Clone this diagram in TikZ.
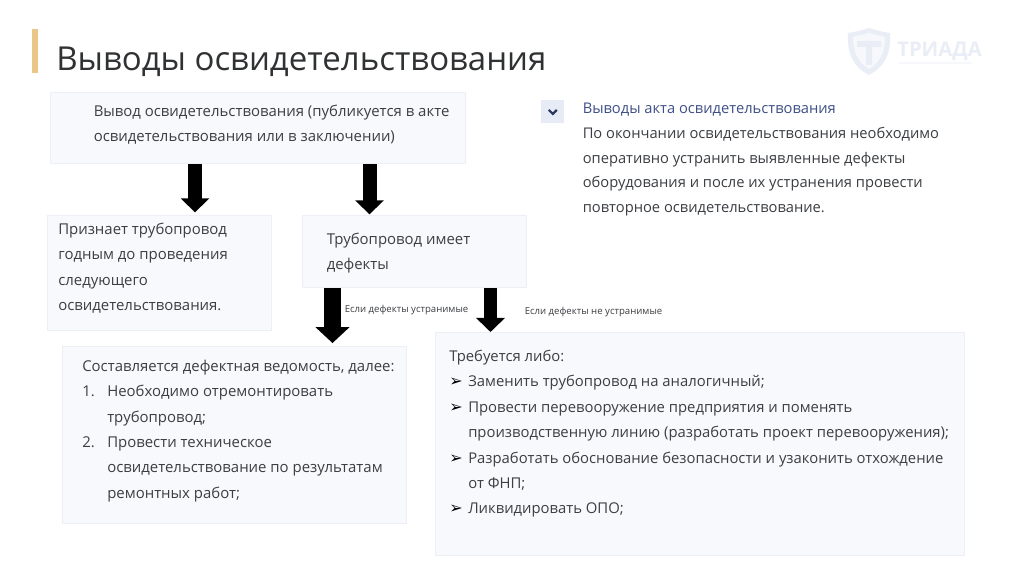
\documentclass[tikz,border=0pt]{standalone}
\usepackage{fontspec}
\setmainfont{Open Sans}
\newfontfamily\arrowfont{DejaVu Sans}
\usetikzlibrary{arrows.meta}
\definecolor{boxfill}{HTML}{F8F9FD}
\definecolor{boxline}{HTML}{EDEFF6}
\definecolor{ink}{HTML}{3B3E42}
\definecolor{headblue}{HTML}{3F5087}
\definecolor{logoc}{HTML}{E9EDF6}
\definecolor{accent}{RGB}{236,198,136}
\definecolor{titleink}{RGB}{47,49,51}
\definecolor{iconfill}{RGB}{231,235,246}
\newcommand{\mk}{\makebox[14.25pt][l]{\arrowfont\fontsize{12}{19}\selectfont\color{black}➢}}
\newcommand{\nm}[1]{\makebox[18.75pt][l]{#1}}
\tikzset{
  box/.style={draw=boxline,fill=boxfill,line width=1pt,anchor=north west,inner sep=0pt},
  txt/.style={anchor=north west,inner sep=0pt,align=left,text=ink,font=\fontsize{11.2}{19.1}\selectfont},
  txtw/.style={txt,font=\fontsize{11.13}{19.1}\selectfont},
  txtr/.style={txt,font=\fontsize{11.03}{18.5}\selectfont},
  small/.style={anchor=west,inner sep=0pt,text=ink,font=\fontsize{7.2}{9}\selectfont},
  bigarrow/.style={line width=#1,-{Triangle[length=10.5pt,width=21pt]},black},
}
\begin{document}
\begin{tikzpicture}[x=0.75pt,y=-0.75pt]
\useasboundingbox (0,0) rectangle (1024,573);
\fill[white] (0,0) rectangle (1024,573);
% accent bar and title
\fill[accent] (32,29) rectangle (38,73);
\node[anchor=base west,inner sep=0pt,text=titleink,font=\fontsize{24.75}{28}\selectfont] (title) at (56,71) {Выводы освидетельствования};
% logo
\fill[logoc] (869,28) .. controls (860,31) and (854,32) .. (848,33) .. controls (847,52) and (852,66) .. (869,75) .. controls (886,66) and (891,52) .. (890,33) .. controls (884,32) and (878,31) .. (869,28) -- cycle;
\fill[white!60!logoc] (869,33) .. controls (862,35) and (857,36) .. (853,37) .. controls (853,51) and (857,62) .. (869,69) .. controls (881,62) and (885,51) .. (885,37) .. controls (881,36) and (876,35) .. (869,33) -- cycle;
\fill[logoc] (857,41) rectangle (881,47) (866,47) rectangle (872,65);
\node[anchor=base west,inner sep=0pt,text=logoc,font=\fontsize{15.2}{16}\bfseries\selectfont] (logo) at (897,57) {ТРИАДА};
\draw[line width=1.5pt,white!60!logoc] (899,63) -- (972,63);
% boxes
\node[box,minimum width=415*0.75pt,minimum height=71*0.75pt] (top) at (50,92) {};
\node[box,minimum width=224*0.75pt,minimum height=115*0.75pt] (left) at (47,215) {};
\node[box,minimum width=224*0.75pt,minimum height=72*0.75pt] (mid) at (302,215) {};
\node[box,minimum width=344*0.75pt,minimum height=177*0.75pt] (lowl) at (62,346) {};
\node[box,minimum width=529*0.75pt,minimum height=223*0.75pt] (lowr) at (435,332) {};
% arrows
\draw[bigarrow=10.5pt,shorten >=2pt] (top.south -| 195,0) -- (left.north -| 195,0);
\draw[bigarrow=10.5pt,shorten >=0.5pt] (top.south -| 369.5,0) -- (mid.north -| 369.5,0);
\draw[line width=12.5pt,-{Triangle[length=12pt,width=25pt]},black,shorten >=2.2pt] (mid.south -| 332.5,0) -- (lowl.north -| 332.5,0);
\draw[bigarrow=10pt] (mid.south -| 490.5,0) -- (lowr.north -| 490.5,0);
% box texts
\node[txt] (ttop) at (93.5,104.5) {Вывод освидетельствования (публикуется в акте\\освидетельствования или в заключении)};
\node[txt] (tleft) at (58,222.5) {Признает трубопровод\\годным до проведения\\следующего\\освидетельствования.};
\node[txt] (tmid) at (326.5,232.5) {Трубопровод имеет\\дефекты};
\node[txt] (tlowl) at (82,359.5) {Составляется дефектная ведомость, далее:\\\nm{1.}Необходимо отремонтировать\\\nm{}трубопровод;\\\nm{2.}Провести техническое\\\nm{}освидетельствование по результатам\\\nm{}ремонтных работ;};
\node[txtw] (tlowr) at (449,349.5) {Требуется либо:\\\mk Заменить трубопровод на аналогичный;\\\mk Провести перевооружение предприятия и поменять\\\hspace*{14.25pt}производственную линию (разработать проект перевооружения);\\\mk Разработать обоснование безопасности и узаконить отхождение\\\hspace*{14.25pt}от ФНП;\\\mk Ликвидировать ОПО;};
\node[small] (l1) at (344.5,310) {Если дефекты устранимые};
\node[small] (l2) at (524.5,312.5) {Если дефекты не устранимые};
% right panel
\node[fill=iconfill,minimum size=17.25pt,inner sep=0pt,anchor=north west] (icon) at (541,100) {};
\draw[headblue!70!black,line width=1.7pt] ([xshift=-3pt,yshift=1.4pt]icon.center) -- ([yshift=-1.6pt]icon.center) -- ([xshift=3pt,yshift=1.4pt]icon.center);
\node[txtr,text=headblue] (rhead) at (582.5,102.5) {Выводы акта освидетельствования};
\node[txtr] (rbody) at (582.5,127) {По окончании освидетельствования необходимо\\оперативно устранить выявленные дефекты\\оборудования и после их устранения провести\\повторное освидетельствование.};
\end{tikzpicture}
\end{document}
